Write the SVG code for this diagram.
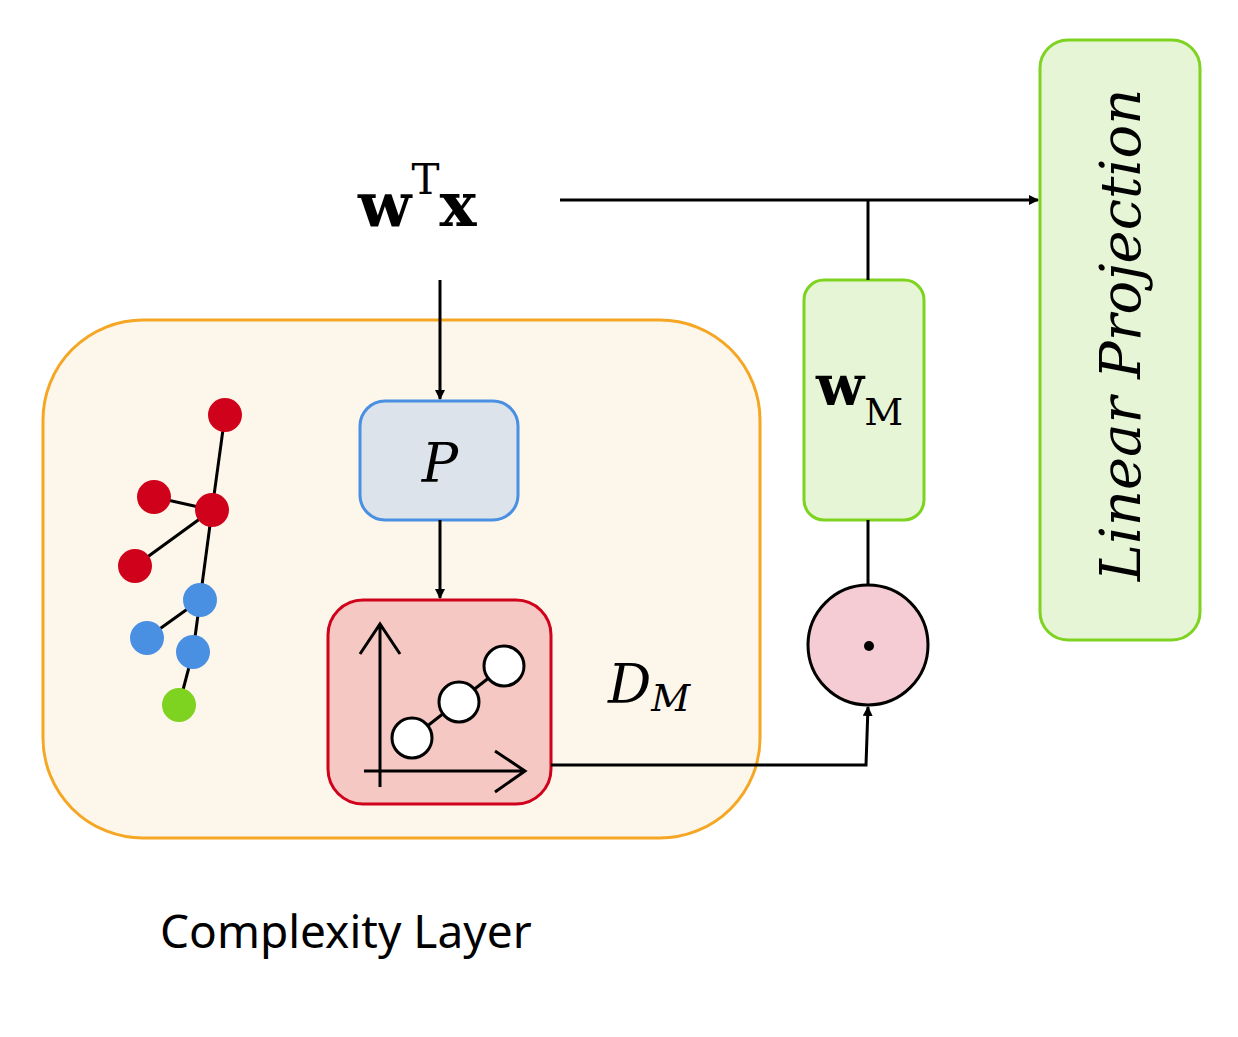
<svg xmlns="http://www.w3.org/2000/svg" width="1238" height="1037" viewBox="0 0 1238 1037">
<defs>
<marker id="ah" markerWidth="10" markerHeight="10" refX="9" refY="5" orient="auto" markerUnits="userSpaceOnUse" viewBox="0 0 10 10"><path d="M0,0 L10,5 L0,10 z" fill="#000"/></marker>
<style>
.ln{stroke:#000;stroke-width:3;fill:none}
.m{font-family:"DejaVu Serif","Liberation Serif",serif}
</style>
</defs>
<rect width="1238" height="1037" fill="#fff"/>
<g id="complexity">
<rect x="43" y="320" width="717" height="518" rx="100" fill="#fdf6eb" stroke="#f5a623" stroke-width="3"/>
<text x="160" y="948" font-family="Noto Sans,sans-serif" font-size="46">Complexity Layer</text>
</g>
<g id="tree" stroke="#000" stroke-width="3">
<line x1="225" y1="415" x2="212" y2="510"/><line x1="154" y1="497" x2="212" y2="510"/><line x1="212" y1="510" x2="135" y2="566"/><line x1="212" y1="510" x2="200" y2="600"/><line x1="200" y1="600" x2="147" y2="638"/><line x1="200" y1="600" x2="193" y2="652"/><line x1="193" y1="652" x2="179" y2="705"/>
<g stroke="none">
<circle cx="225" cy="415" r="17" fill="#d0021b"/><circle cx="154" cy="497" r="17" fill="#d0021b"/><circle cx="212" cy="510" r="17" fill="#d0021b"/><circle cx="135" cy="566" r="17" fill="#d0021b"/>
<circle cx="200" cy="600" r="17" fill="#4a90e2"/><circle cx="147" cy="638" r="17" fill="#4a90e2"/><circle cx="193" cy="652" r="17" fill="#4a90e2"/><circle cx="179" cy="705" r="17" fill="#7ed321"/>
</g></g>
<g id="P">
<rect x="360" y="401" width="158" height="119" rx="25" fill="#dde3ea" stroke="#4a90e2" stroke-width="3"/>
<text x="440" y="482" text-anchor="middle" class="m" font-style="italic" font-size="54">P</text>
</g>
<g id="DM">
<rect x="328" y="600" width="223" height="204" rx="35" fill="#f5c8c3" stroke="#d0021b" stroke-width="3"/>
<path class="ln" d="M380,787 V624 M360,654 L380,624 L400,654 M364,771 H525 M495,751 L525,771 L495,792 M412,738 L504,666"/>
<g fill="#fff" stroke="#000" stroke-width="3"><circle cx="412" cy="738" r="20"/><circle cx="459" cy="702" r="20"/><circle cx="504" cy="666" r="20"/></g>
<text x="608" y="703" class="m" font-style="italic" font-size="54">D<tspan font-size="38" dy="8">M</tspan></text>
</g>
<g id="wtx"><text x="358" y="226" class="m" font-weight="bold" font-size="62">w<tspan font-size="42" font-weight="normal" dy="-32">T</tspan><tspan dy="32">x</tspan></text></g>
<g id="wM">
<rect x="804" y="280" width="120" height="240" rx="20" fill="#e6f5d5" stroke="#7ed321" stroke-width="3"/>
<text x="816" y="405" class="m" font-weight="bold" font-size="56">w<tspan font-size="38" font-weight="normal" dy="20">M</tspan></text>
</g>
<g id="odot"><circle cx="868" cy="645" r="60" fill="#f5ccd3" stroke="#000" stroke-width="3"/><circle cx="869" cy="646" r="5" fill="#000"/></g>
<g id="linproj">
<rect x="1040" y="40" width="160" height="600" rx="28" fill="#e6f5d5" stroke="#7ed321" stroke-width="3"/>
<text transform="translate(1140,335) rotate(-90)" text-anchor="middle" class="m" font-style="italic" font-size="56">Linear Projection</text>
</g>
<g id="connectors" class="ln">
<line x1="560" y1="200" x2="1038" y2="200" marker-end="url(#ah)"/>
<line x1="868" y1="200" x2="868" y2="280"/>
<line x1="868" y1="520" x2="868" y2="585"/>
<line x1="440" y1="280" x2="440" y2="399" marker-end="url(#ah)"/>
<line x1="440" y1="520" x2="440" y2="598" marker-end="url(#ah)"/>
<path d="M551,765 H866 L868,707" marker-end="url(#ah)"/>
</g>
</svg>
